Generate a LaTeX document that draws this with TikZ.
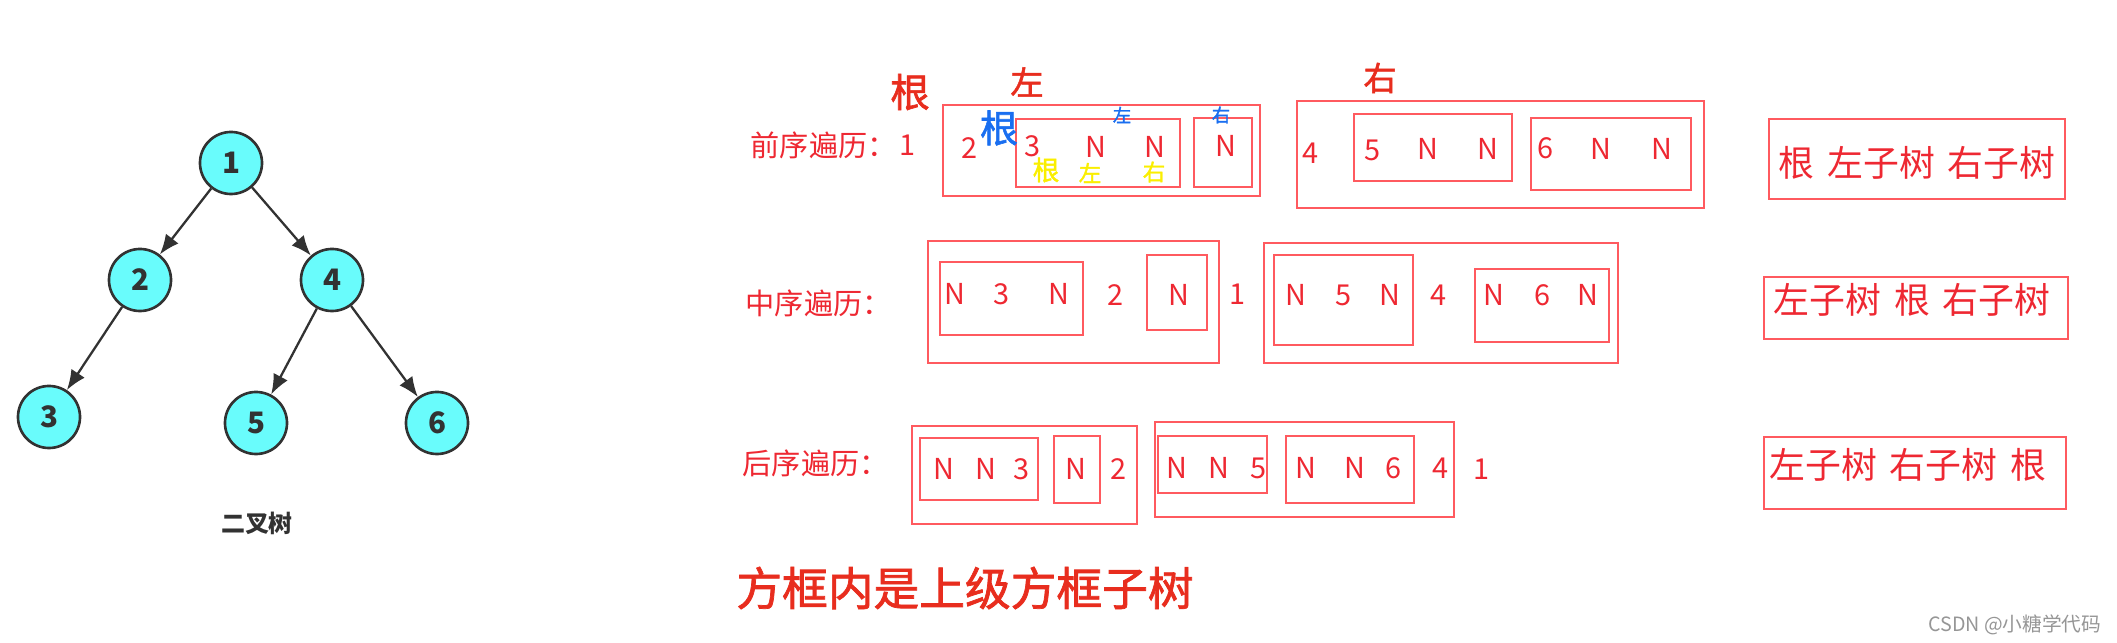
\documentclass[tikz,border=0pt]{standalone}
\usepackage{fontspec}
\newfontfamily\cjk{Noto Sans CJK SC}
\newfontfamily\trazo[FakeBold=1.6]{Noto Sans CJK SC}
\usetikzlibrary{arrows.meta}
\definecolor{rojo}{RGB}{238,40,50}
\definecolor{marco}{RGB}{255,90,95}
\definecolor{mano}{RGB}{232,45,30}
\definecolor{azul}{RGB}{25,110,240}
\definecolor{amarillo}{RGB}{250,238,0}
\definecolor{celeste}{RGB}{105,252,252}
\definecolor{borde}{RGB}{50,50,50}
\definecolor{gris}{RGB}{150,150,150}
\tikzset{
  nodo/.style={circle, draw=borde, line width=0.75pt, fill=celeste, minimum size=0.62cm,
    inner sep=0pt, text=borde, font=\cjk\bfseries\fontsize{8.4}{9}\selectfont},
  flecha/.style={-{Latex[length=2mm,width=1.6mm]}, line width=0.65pt, draw=borde},
  caja/.style={draw=marco, line width=0.45pt},
  letra/.style={inner sep=0pt, text=rojo, font=\cjk\fontsize{8.2}{9}\selectfont},
  titulo/.style={letra, anchor=west, font=\cjk\fontsize{8.3}{9}\selectfont},
  resumen/.style={letra, font=\cjk\fontsize{10.2}{11}\selectfont},
  nota/.style={inner sep=0pt, font=\trazo\fontsize{#1}{#1}\selectfont},
}
\begin{document}
\begin{tikzpicture}[x=0.01cm, y=-0.01cm]
  \useasboundingbox (0,0) rectangle (2117,643);

  % Arbol binario
  \node[nodo] (n1) at (231,163) {1};
  \node[nodo] (n2) at (140,280) {2};
  \node[nodo] (n4) at (332,280) {4};
  \node[nodo] (n3) at (49,417) {3};
  \node[nodo] (n5) at (256,423) {5};
  \node[nodo] (n6) at (437,423) {6};
  \draw[flecha] (n1) -- (n2);
  \draw[flecha] (n1) -- (n4);
  \draw[flecha] (n2) -- (n3);
  \draw[flecha] (n4) -- (n5);
  \draw[flecha] (n4) -- (n6);
  \node[inner sep=0pt, text=borde, font=\cjk\bfseries\fontsize{6.8}{7}\selectfont] (arbol) at (257,523) {二叉树};

  % Preorden
  \node[titulo] (pre) at (750,145) {前序遍历：};
  \node[letra] (pre1) at (907,145) {1};
  \draw[caja] (943,105) rectangle (1260,196);
  \node[letra] (pre2) at (969,148) {2};
  \draw[caja] (1016,119) rectangle (1180,187);
  \node[letra] (pre3) at (1032,146) {3};
  \node[letra] (preN1) at (1096,147) {N};
  \node[letra] (preN2) at (1155,147) {N};
  \draw[caja] (1194,118) rectangle (1252,187);
  \node[letra] (preN3) at (1226,146) {N};
  \draw[caja] (1297,101) rectangle (1704,208);
  \node[letra] (pre4) at (1310,153) {4};
  \draw[caja] (1354,114) rectangle (1512,181);
  \node[letra] (pre5) at (1372,150) {5};
  \node[letra] (preN4) at (1428,149) {N};
  \node[letra] (preN5) at (1488,149) {N};
  \draw[caja] (1531,118) rectangle (1691,190);
  \node[letra] (pre6) at (1545,148) {6};
  \node[letra] (preN6) at (1601,149) {N};
  \node[letra] (preN7) at (1662,149) {N};
  \draw[caja] (1769,119) rectangle (2065,199);
  \node[resumen] (preR) at (1917,163) {根\hspace{0.35em}左子树\hspace{0.35em}右子树};

  % Anotaciones a mano
  \node[nota=11.2, text=mano] (hR1) at (910,92) {根};
  \node[nota=9.4, text=mano] (hL1) at (1027,82) {左};
  \node[nota=9.4, text=mano] (hD1) at (1380,78) {右};
  \node[nota=10.8, text=azul] (hR2) at (999,128) {根};
  \node[nota=5.2, text=azul] (hL2) at (1122,115) {左};
  \node[nota=5.2, text=azul] (hD2) at (1221,115) {右};
  \node[nota=7.6, text=amarillo] (hR3) at (1046,170) {根};
  \node[nota=6.4, text=amarillo] (hL3) at (1090,173) {左};
  \node[nota=6.4, text=amarillo] (hD3) at (1154,172) {右};

  % Inorden
  \node[titulo] (in) at (745,303) {中序遍历：};
  \draw[caja] (928,241) rectangle (1219,363);
  \draw[caja] (940,262) rectangle (1083,335);
  \node[letra] (inN1) at (955,294) {N};
  \node[letra] (in3) at (1001,294) {3};
  \node[letra] (inN2) at (1059,294) {N};
  \node[letra] (in2) at (1115,295) {2};
  \draw[caja] (1147,255) rectangle (1207,330);
  \node[letra] (inN3) at (1179,295) {N};
  \node[letra] (in1) at (1237,294) {1};
  \draw[caja] (1264,243) rectangle (1618,363);
  \draw[caja] (1274,255) rectangle (1413,345);
  \node[letra] (inN4) at (1296,295) {N};
  \node[letra] (in5) at (1343,295) {5};
  \node[letra] (inN5) at (1390,295) {N};
  \node[letra] (in4) at (1438,295) {4};
  \draw[caja] (1475,269) rectangle (1609,342);
  \node[letra] (inN6) at (1494,295) {N};
  \node[letra] (in6) at (1542,295) {6};
  \node[letra] (inN7) at (1588,295) {N};
  \draw[caja] (1764,277) rectangle (2068,339);
  \node[resumen] (inR) at (1912,300) {左子树\hspace{0.35em}根\hspace{0.35em}右子树};

  % Postorden
  \node[titulo] (post) at (742,463) {后序遍历：};
  \draw[caja] (912,426) rectangle (1137,524);
  \draw[caja] (920,438) rectangle (1038,500);
  \node[letra] (postN1) at (944,469) {N};
  \node[letra] (postN2) at (986,469) {N};
  \node[letra] (post3) at (1021,469) {3};
  \draw[caja] (1054,436) rectangle (1100,503);
  \node[letra] (postN3) at (1076,469) {N};
  \node[letra] (post2) at (1118,469) {2};
  \draw[caja] (1155,422) rectangle (1454,517);
  \draw[caja] (1158,436) rectangle (1267,493);
  \node[letra] (postN4) at (1177,468) {N};
  \node[letra] (postN5) at (1219,468) {N};
  \node[letra] (post5) at (1258,468) {5};
  \draw[caja] (1286,436) rectangle (1414,503);
  \node[letra] (postN6) at (1306,468) {N};
  \node[letra] (postN7) at (1355,468) {N};
  \node[letra] (post6) at (1393,468) {6};
  \node[letra] (post4) at (1440,468) {4};
  \node[letra] (post1) at (1481,469) {1};
  \draw[caja] (1764,437) rectangle (2066,509);
  \node[resumen, anchor=west] (postR) at (1769,465) {左子树\hspace{0.35em}右子树\hspace{0.35em}根};

  % Nota final y marca
  \node[nota=13, text=mano] (final) at (965,588) {方框内是上级方框子树};
  \node[inner sep=0pt, anchor=east, text=gris, font=\cjk\fontsize{5.6}{6}\selectfont] (marca) at (2102,625) {CSDN @小糖学代码};
\end{tikzpicture}
\end{document}
